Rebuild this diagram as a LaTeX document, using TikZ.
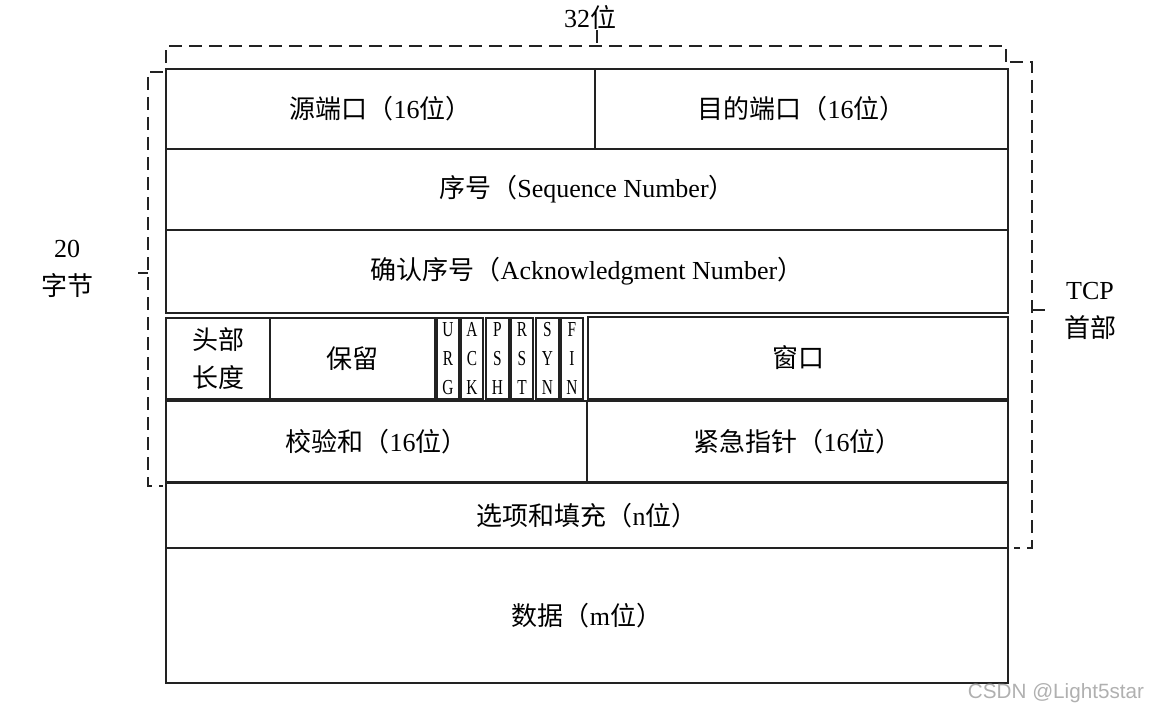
\documentclass[tikz,border=0pt]{standalone}
\usepackage{fontspec}
\setmainfont{Liberation Serif}
\newfontfamily\cjk{Noto Sans CJK SC}
\newfontfamily\flagfont[FakeStretch=0.72]{Liberation Serif}
\newfontfamily\wmfont{Liberation Sans}
\usetikzlibrary{fit}
\newcommand\zh[1]{{\cjk #1}}
\definecolor{ink}{HTML}{222222}
\definecolor{wm}{HTML}{B0B0B0}
\tikzset{
  cell/.style={draw=ink, line width=1.2pt, inner sep=0pt, rectangle},
  txt/.style={font=\fontsize{19.5}{28.5}\selectfont, align=center, inner sep=0pt, text=black},
  flagtxt/.style={font=\flagfont\fontsize{16}{21.5}\selectfont, align=center, inner sep=0pt},
  flagcell/.style={draw=ink, line width=0.9pt, inner sep=0pt, rectangle},
  bracket/.style={draw=ink, line width=1.2pt, dash pattern=on 9.5pt off 5.5pt},
}
\newcommand\cell[6]{%
  \node[cell, fit={(#2,#3) (#4,#5)}] (#1) {};
  \node[txt] (#1t) at (#1.center) {#6};}
\newcommand\flag[4]{%
  \node[flagcell, fit={(#2,318) (#3,399)}] (#1) {};
  \node[flagtxt] (#1t) at (#1.center) {#4};}
\begin{document}
\begin{tikzpicture}[x=0.75pt,y=-0.75pt]
\useasboundingbox (0,0) rectangle (1151,713);
\cell{sp}{166}{69}{595}{149}{\zh{源端口（}16\zh{位）}}
\cell{dp}{595}{69}{1008}{149}{\zh{目的端口（}16\zh{位）}}
\cell{seq}{166}{149}{1008}{230}{\zh{序号（}Sequence Number\zh{）}}
\cell{ack}{166}{230}{1008}{313}{\zh{确认序号（}Acknowledgment Number\zh{）}}
\cell{hl}{166}{318}{270}{399}{\zh{头部}\\\zh{长度}}
\cell{rsv}{270}{318}{435}{399}{\zh{保留}}
\flag{fu}{437}{459}{U\\R\\G}
\flag{fa}{461}{483}{A\\C\\K}
\flag{fp}{486}{509}{P\\S\\H}
\flag{fr}{511}{533}{R\\S\\T}
\flag{fs}{536}{559}{S\\Y\\N}
\flag{ff}{561}{583}{F\\I\\N}
\cell{win}{588}{317}{1008}{399}{\zh{窗口}}
\cell{cks}{166}{401}{587}{482}{\zh{校验和（}16\zh{位）}}
\cell{urg}{587}{401}{1008}{482}{\zh{紧急指针（}16\zh{位）}}
\cell{opt}{166}{483}{1008}{548}{\zh{选项和填充（}n\zh{位）}}
\cell{data}{166}{548}{1008}{683}{\zh{数据（}m\zh{位）}}
% brackets
\coordinate (tl) at (166,63);
\coordinate (tr) at (1006,63);
\draw[bracket] (tl) -- (166,46) -- (1006,46) -- (tr);
\node[txt] (w32) at (590,18) {32\zh{位}};
\coordinate (t32) at (597,46);
\draw[bracket] (w32.south -| t32) -- (t32);
\coordinate (rt) at (1010,62);
\coordinate (rb) at (1014,548);
\draw[bracket] (rt) -- (1032,62) -- (1032,548) -- (rb);
\node[txt] (tcp) at (1090,311) {TCP\\\zh{首部}};
\coordinate (rm) at (1032,310);
\draw[bracket] (rm) -- (1052,310);
\coordinate (lt) at (163,72);
\coordinate (lb) at (163,486);
\draw[bracket] (lt) -- (148,72) -- (148,486) -- (lb);
\node[txt] (b20) at (67,269) {20\\\zh{字节}};
\coordinate (lm) at (148,273);
\draw[bracket] (138,273) -- (lm);
\node[font=\wmfont\fontsize{15.5}{17}\selectfont, text=wm, inner sep=0pt] (wmark) at (1056,693) {CSDN @Light5star};
\end{tikzpicture}
\end{document}
